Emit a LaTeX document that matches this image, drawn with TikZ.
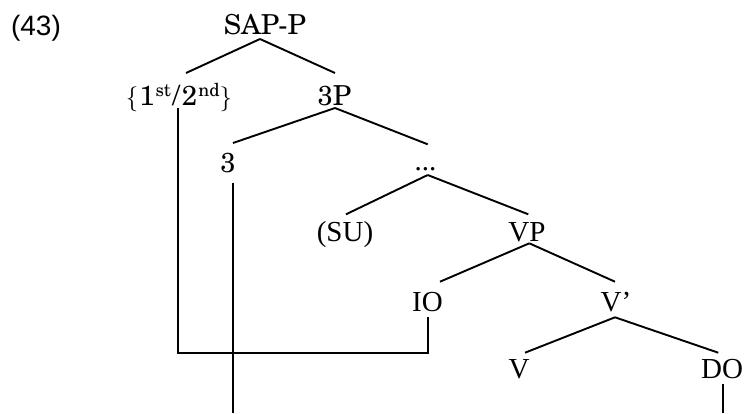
\documentclass[tikz,border=0pt]{standalone}
\usepackage{fontspec}
\setmainfont{Liberation Serif}
\newfontfamily\scholafont{TeX Gyre Schola}
\newfontfamily\arialfont{Liberation Sans}
\newcommand{\mysup}[1]{\raisebox{8.5pt}{\fontsize{18}{18}\selectfont #1}}
\begin{document}
\begin{tikzpicture}[x=1pt,y=-1pt,
  lbl/.style={inner sep=0pt, anchor=base},
  sch/.style={lbl, font=\scholafont\fontsize{27.5}{30}\selectfont},
  tms/.style={lbl, font=\fontsize{29}{32}\selectfont},
  sns/.style={lbl, font=\arialfont\fontsize{28}{31}\selectfont},
  edge/.style={line width=1.9pt, line join=miter}]
\useasboundingbox (0,0) rectangle (746,413);
% labels
\node[sns] (ex) at (36,35) {(43)};
\node[sch] (sap) at (264.8,34) {SAP-P};
\node[sch] (pers) at (179,105) {$\{$\kern1pt1\kern1pt\mysup{st}\kern1.5pt/\kern2pt2\kern1pt\mysup{nd}$\}$};
\node[sch] (tp) at (334.5,105) {3P};
\node[sch] (three) at (228,172.7) {3};
\node[tms] (dots) at (425.5,170.7) {...};
\node[tms] (su) at (345,241) {(SU)};
\node[tms] (vp) at (527,241.7) {VP};
\node[tms] (io) at (427.5,311.7) {IO};
\node[tms] (vbar) at (616,311.7) {V’};
\node[tms] (v) at (519,378.3) {V};
\node[tms] (do) at (722,378.3) {DO};
% connector ends
\coordinate (sap-b) at (260,39);
\coordinate (pers-t) at (186,73);
\coordinate (pers-b) at (177.7,108);
\coordinate (tp-t) at (335,73);
\coordinate (tp-b) at (335,108);
\coordinate (three-t) at (233,143);
\coordinate (three-b) at (232.7,183);
\coordinate (three-end) at (232.7,413);
\coordinate (dots-t) at (427.7,144.3);
\coordinate (dots-b) at (427.7,175);
\coordinate (su-t) at (346,214.3);
\coordinate (vp-t) at (528.3,214.3);
\coordinate (vp-b) at (529.3,243.3);
\coordinate (io-t) at (440,281.7);
\coordinate (io-b) at (427.7,317.3);
\coordinate (link) at (427.7,353.3);
\coordinate (vbar-t) at (615,281.7);
\coordinate (vbar-b) at (615,317.3);
\coordinate (v-t) at (525,352.7);
\coordinate (do-t) at (718.3,352.7);
\coordinate (do-b) at (723.3,384);
\coordinate (do-end) at (723.3,413);
% tree edges
\draw[edge] (sap-b) -- (pers-t);
\draw[edge] (sap-b) -- (tp-t);
\draw[edge] (tp-b) -- (three-t);
\draw[edge] (tp-b) -- (dots-t);
\draw[edge] (dots-b) -- (su-t);
\draw[edge] (dots-b) -- (vp-t);
\draw[edge] (vp-b) -- (io-t);
\draw[edge] (vp-b) -- (vbar-t);
\draw[edge] (vbar-b) -- (v-t);
\draw[edge] (vbar-b) -- (do-t);
% movement lines
\draw[edge] (pers-b) -- (pers-b |- link) -- (link) -- (io-b);
\draw[edge] (three-b) -- (three-end);
\draw[edge] (do-b) -- (do-end);
\end{tikzpicture}
\end{document}
